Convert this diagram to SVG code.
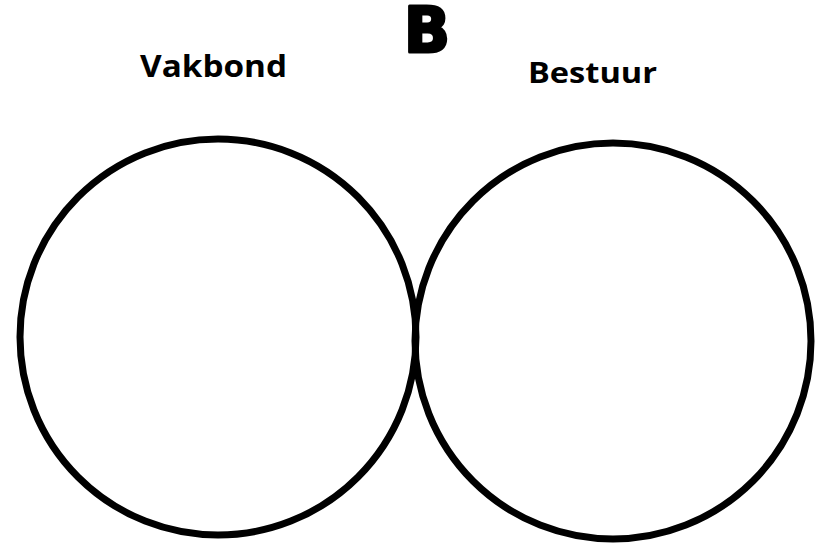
<svg xmlns="http://www.w3.org/2000/svg" width="817" height="546" viewBox="0 0 817 546">
  <style>
    .ring { fill: none; stroke: #000; stroke-width: 7; }
    .label { font-family: "Open Sans", "Liberation Sans", sans-serif; font-weight: 700; fill: #000; }
    .letter { font-family: "DejaVu Sans", "Liberation Sans", sans-serif; font-weight: 900; fill: #000; stroke: #000; stroke-width: 3; stroke-linejoin: round; }
  </style>
  <rect width="817" height="546" fill="#fff"/>
  <text class="letter" x="404" y="52" font-size="62" textLength="46" lengthAdjust="spacingAndGlyphs">B</text>
  <g id="vakbond">
    <circle class="ring" cx="218" cy="337" r="198"/>
    <text class="label" x="140" y="77" font-size="30" textLength="147" lengthAdjust="spacingAndGlyphs">Vakbond</text>
  </g>
  <g id="bestuur">
    <circle class="ring" cx="613" cy="341" r="198"/>
    <text class="label" x="528" y="83" font-size="28" textLength="129" lengthAdjust="spacingAndGlyphs">Bestuur</text>
  </g>
  <g id="connectors"></g>
</svg>
